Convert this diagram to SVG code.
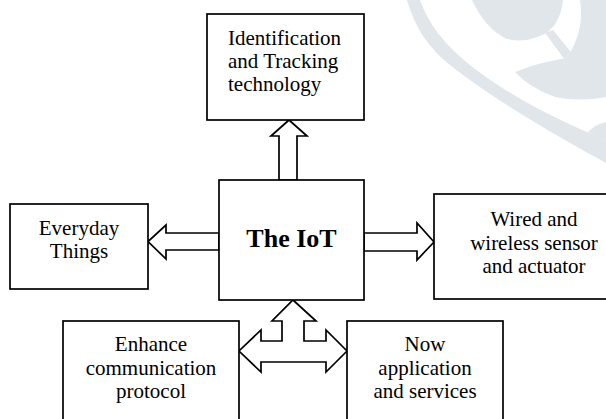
<svg xmlns="http://www.w3.org/2000/svg" width="606" height="419" viewBox="0 0 606 419">
  <style>
    .box { fill: #ffffff; stroke: #000000; stroke-width: 1.7; }
    .arrow { fill: #ffffff; stroke: #000000; stroke-width: 1.7; stroke-linejoin: miter; }
    .lbl { font-family: "Liberation Serif", "Times New Roman", serif; font-size: 21px; fill: #000000; text-anchor: middle; }
    .title { font-family: "Liberation Serif", "Times New Roman", serif; font-size: 26px; font-weight: bold; fill: #000000; text-anchor: middle; }
    .mark { fill: #e1e6eb; }
  </style>

  <rect x="0" y="0" width="606" height="419" fill="#ffffff"/>

  <!-- faint background emblem, upper right -->
  <g id="emblem">
    <path class="mark" d="M407,0 Q418,40 450,65 Q500,105 606,163 L606,140 Q520,105 470,65 Q432,35 420,0 Z"/>
    <path class="mark" d="M472,0 L563,0 Q560,28 540,36 Q520,44 505,38 Q485,28 472,0 Z"/>
    <path class="mark" d="M545,33 L553,30 L575,57 L565,60 Z"/>
    <path class="mark" d="M515,72 Q540,62 567,58 Q585,30 580,0 L606,0 L606,97 Q580,102 555,97 Q530,88 515,72 Z"/>
    <path class="mark" d="M588,132 Q596,124 606,122 L606,140 Q596,137 588,132 Z"/>
  </g>

  <!-- connectors: hollow block arrows -->
  <g id="connectors">
    <polygon class="arrow" points="279,180 279,136 271,136 289,120 307,136 297,136 297,180"/>
    <polygon class="arrow" points="219,233 166,233 166,225 148,241.5 166,259 166,250 219,250"/>
    <polygon class="arrow" points="364,233 417,233 417,223 434,242 417,260 417,251 364,251"/>
    <polygon class="arrow" points="293,300 316,321 304,321 304,341 326,341 326,330 347,351 326,372 326,362 261,362 261,372 239,351 261,330 261,341 282,341 282,321 272,321"/>
  </g>

  <g id="node-identification">
    <rect class="box" x="207" y="14" width="157" height="106"/>
    <text class="lbl" style="text-anchor:start" x="228" y="45">Identification</text>
    <text class="lbl" style="text-anchor:start" x="228" y="68">and Tracking</text>
    <text class="lbl" style="text-anchor:start" x="228" y="91">technology</text>
  </g>

  <g id="node-iot">
    <rect class="box" x="219" y="180" width="145" height="120"/>
    <text class="title" x="291.5" y="247">The IoT</text>
  </g>

  <g id="node-everyday">
    <rect class="box" x="10" y="204" width="138" height="85"/>
    <text class="lbl" x="79" y="235">Everyday</text>
    <text class="lbl" x="79" y="258">Things</text>
  </g>

  <g id="node-wired">
    <rect class="box" x="434" y="194" width="210" height="105"/>
    <text class="lbl" x="534" y="226">Wired and</text>
    <text class="lbl" x="534" y="249.5">wireless sensor</text>
    <text class="lbl" x="534" y="273">and actuator</text>
  </g>

  <g id="node-protocol">
    <rect class="box" x="63" y="321" width="176" height="115"/>
    <text class="lbl" x="151" y="351">Enhance</text>
    <text class="lbl" x="151" y="375">communication</text>
    <text class="lbl" x="151" y="398">protocol</text>
  </g>

  <g id="node-services">
    <rect class="box" x="347" y="321" width="156" height="115"/>
    <text class="lbl" x="425" y="351">Now</text>
    <text class="lbl" x="425" y="375">application</text>
    <text class="lbl" x="425" y="398">and services</text>
  </g>
</svg>
